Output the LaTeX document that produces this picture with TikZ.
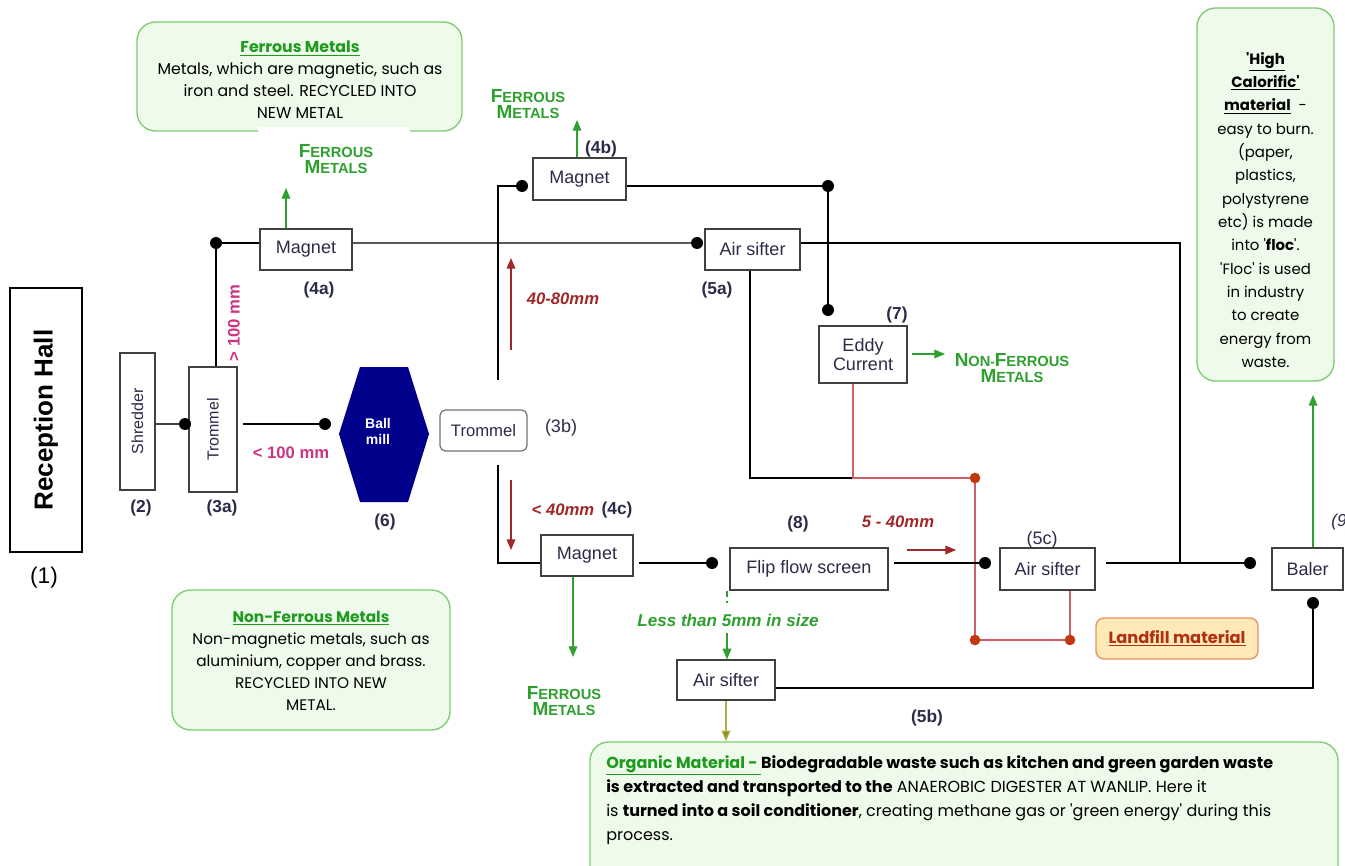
\documentclass[tikz,border=0pt]{standalone}
\usepackage{fontspec}
\setmainfont{Liberation Sans}
\newfontfamily\comic{Poppins}
\usetikzlibrary{arrows.meta,calc}
\definecolor{boxline}{HTML}{404040}
\definecolor{txt}{HTML}{2B2B4A}
\definecolor{notefill}{HTML}{EEFAEA}
\definecolor{noteline}{HTML}{7FCB72}
\definecolor{titlegreen}{HTML}{1E9A1E}
\definecolor{lblgreen}{HTML}{2EA02E}
\definecolor{magen}{HTML}{CC3380}
\definecolor{dred}{HTML}{A02828}
\definecolor{lred}{HTML}{D06060}
\definecolor{dotred}{HTML}{C03810}
\definecolor{millblue}{HTML}{00008B}
\definecolor{oliveline}{HTML}{B0B040}
\definecolor{landfill}{HTML}{FFE9B8}
\definecolor{landline}{HTML}{E89060}
\definecolor{landtxt}{HTML}{B03010}
\newcommand\scap[2]{{\fontsize{14.2}{16}\selectfont #1}{\fontsize{11}{16}\selectfont #2}}
\tikzset{
  proc/.style={draw=boxline, line width=0.9pt, fill=white, text=txt, inner sep=0pt, align=center,
    font=\fontsize{13.5}{15}\selectfont},
  note/.style={draw=noteline, line width=1pt, fill=notefill, rounded corners=14pt, inner sep=0pt},
  notetext/.style={align=center, inner sep=0pt, text=black},
  tag/.style={font=\bfseries\fontsize{13}{15}\selectfont, text=txt},
  glabel/.style={font=\bfseries, text=lblgreen, align=center, inner sep=0pt},
  flow/.style={line width=1.6pt, draw=black},
  grayline/.style={line width=1pt, draw=black!65},
  redline/.style={line width=0.9pt, draw=lred},
  gar/.style={line width=0.9pt, draw=lblgreen, -{Triangle[length=8pt,width=6.5pt,fill=lblgreen]}},
  rar/.style={line width=0.9pt, draw=dred, -{Triangle[length=8pt,width=6.5pt,fill=dred]}},
  oar/.style={line width=0.9pt, draw=oliveline, -{Triangle[length=8pt,width=6.5pt,fill=oliveline!80!black]}},
  redlbl/.style={font=\bfseries\itshape\fontsize{12.5}{14}\selectfont, text=dred},
  maglbl/.style={font=\bfseries\fontsize{12.5}{14}\selectfont, text=magen},
}
\begin{document}
\begin{tikzpicture}[x=0.75pt,y=-0.75pt]
\fill[white] (0,0) rectangle (1345,866);
\useasboundingbox (0,0) rectangle (1345,866);

% ---------- notes ----------
\node[note, minimum width=243.75pt, minimum height=81.75pt] (nFerr) at (299.5,76.5) {};
\fill[white] (258,127) rectangle (410,134);
\node[notetext, font=\comic\fontsize{11.8}{16.5}\selectfont] (tFerr) at (300,80)
  {{\bfseries\color{titlegreen}\underline{Ferrous Metals}}\\
   Metals, which are magnetic, such as\\ iron and steel. RECYCLED INTO\\ NEW METAL};

\node[note, minimum width=208.5pt, minimum height=105pt] (nNon) at (311,660) {};
\node[notetext, font=\comic\fontsize{11.5}{16.5}\selectfont] (tNon) at (311,661)
  {{\bfseries\color{titlegreen}\underline{Non-Ferrous Metals}}\\
   Non-magnetic metals, such as\\ aluminium, copper and brass.\\ RECYCLED INTO NEW\\ METAL.};

\node[note, minimum width=102.75pt, minimum height=279.75pt] (nHigh) at (1265.5,194.5) {};
\node[notetext, font=\comic\fontsize{11.2}{17.5}\selectfont] (tHigh) at (1265.5,210)
  {{\bfseries'\underline{High}}\\ {\bfseries\underline{Calorific'}}\\ {\bfseries\underline{material}} \ -\\
   easy to burn.\\ (paper,\\ plastics,\\ polystyrene\\ etc) is made\\ into '\textbf{floc}'.\\
   'Floc' is used\\ in industry\\ to create\\ energy from\\ waste.};

\node[note, minimum width=561pt, minimum height=106.5pt] (nOrg) at (964,813) {};
\node[notetext, align=left, anchor=north west, font=\comic\fontsize{12}{18}\selectfont] (tOrg) at (606,755)
  {{\bfseries\color{titlegreen}\underline{Organic Material - }}\textbf{Biodegradable waste such as kitchen and green garden waste}\\
   \textbf{is extracted and transported to the} ANAEROBIC DIGESTER AT WANLIP. Here it\\
   is \textbf{turned into a soil conditioner}, creating methane gas or 'green energy' during this\\
   process.};

% ---------- process boxes ----------
\node[draw=black, line width=1.2pt, minimum width=54pt, minimum height=198pt, inner sep=0pt] (hall) at (46,420) {};
\node[rotate=90, font=\bfseries\fontsize{19.5}{21}\selectfont] (hallt) at (hall.center) {Reception Hall};
\node[proc, rotate=90, minimum width=102.75pt, minimum height=26.25pt, font=\fontsize{12}{14}\selectfont] (shred) at (137.5,421.5) {Shredder};
\node[proc, rotate=90, minimum width=93.75pt, minimum height=36pt, font=\fontsize{12}{14}\selectfont] (trom1) at (213,429.5) {Trommel};
\node[proc, minimum width=69pt, minimum height=30.75pt] (mag4a) at (306,249.5) {Magnet};
\node[proc, minimum width=71.25pt, minimum height=30.75pt] (air5a) at (752.5,249.5) {Air sifter};
\node[proc, minimum width=69.75pt, minimum height=31.5pt] (mag4b) at (579.5,179) {Magnet};
\node[proc, minimum width=66pt, minimum height=42.75pt] (eddy) at (863,354.5) {Eddy\\[-1pt]Current};
\node[proc, draw=black!55, rounded corners=4pt, minimum width=65.25pt, minimum height=30.75pt, font=\fontsize{12.5}{14}\selectfont] (trom2) at (483.5,430.5) {Trommel};
\node[proc, minimum width=69pt, minimum height=30.75pt] (mag4c) at (587,555.5) {Magnet};
\node[proc, minimum width=118.5pt, minimum height=31.5pt] (flip) at (809,569) {Flip flow screen};
\node[proc, minimum width=71.25pt, minimum height=31.5pt] (air5c) at (1047.5,569) {Air sifter};
\node[proc, minimum width=53.25pt, minimum height=31.5pt] (baler) at (1307.5,569) {Baler};
\node[proc, minimum width=73.5pt, minimum height=30pt] (air5b) at (726,680) {Air sifter};
\node[draw=landline, line width=1pt, fill=landfill, rounded corners=6pt, minimum width=121.5pt, minimum height=30.75pt,
      text=landtxt, font=\comic\bfseries\fontsize{12.2}{14}\selectfont] (land) at (1177,638.5) {\underline{Landfill material}};

% ball mill
\fill[millblue] (360,367) -- (408,367) -- (429,434) -- (408,502) -- (360,502) -- (339,434) -- cycle;
\node[text=white, font=\bfseries\fontsize{10.5}{12}\selectfont, align=center] (ball) at (378,431) {Ball\\mill};

% ---------- coordinates ----------
\coordinate (d1) at (185,424);
\coordinate (d2) at (325,424);
\coordinate (d3) at (216,243);
\coordinate (d4) at (697,243);
\coordinate (j1) at (1180,243);
\coordinate (j2) at (1180,563);
\coordinate (a5b) at (750,478);
\coordinate (j3) at (853,478);
\coordinate (d8) at (975,478);
\coordinate (d9) at (975,640);
\coordinate (d10) at (1070,640);
\coordinate (t2u) at (498,380);
\coordinate (d5) at (522,186);
\coordinate (d6) at (828,186);
\coordinate (d7) at (828,310);
\coordinate (t2d) at (498,465);
\coordinate (d11) at (712,563);
\coordinate (d12) at (985,563);
\coordinate (d13) at (1250,563);
\coordinate (d14) at (1313,603);
\coordinate (e5) at (1313,688);
\coordinate (ga) at (1313,395);
\coordinate (fa) at (286,188);
\coordinate (fb) at (577,120);
\coordinate (fc) at (573,657);
\coordinate (ge) at (945,354);
\coordinate (gf) at (727,603);
\coordinate (gg) at (727,633);
\coordinate (r1) at (511,350);
\coordinate (r2) at (511,258);
\coordinate (r3) at (511,480);
\coordinate (r4) at (511,550);
\coordinate (r5) at (907,550);
\coordinate (r6) at (956,550);

% ---------- connectors ----------
\draw[line width=1pt, draw=black!75] (d1 -| shred.south) -- (d1);
\draw[flow] (d2 -| trom1.south) ++(5,0) -- (d2);
\draw[flow] (trom1.east -| d3) -- (d3) -- (d3 -| mag4a.west);
\draw[grayline] (d3 -| mag4a.east) -- (d4);
\draw[flow] (d4 -| air5a.east) -- (j1) -- (j2);
\draw[flow] (a5b |- air5a.south) -- (a5b) -- (j3);
\draw[redline] (j3 |- eddy.south) -- (j3) -- (d8);
\draw[redline] (d8) -- (d9) -- (d10) -- (d10 |- air5c.south);
\draw[flow] (t2u) -- (t2u |- d5) -- (d5);
\draw[flow] (d5 -| mag4b.east) -- (d6) -- (d7);
\draw[flow] (t2d) -- (t2d |- d11) -- (d11 -| mag4c.west);
\draw[flow] (d11 -| mag4c.east) ++(5,0) -- (d11);
\draw[flow] (d12 -| flip.east) ++(5,0) -- (d12);
\draw[flow] (d13 -| air5c.east) ++(10,0) -- (d13);
\draw[flow] (d14) -- (e5) -- (e5 -| air5b.east);
\draw[gar] (ga |- baler.north) -- (ga);
\draw[gar] (fa |- mag4a.north) -- (fa);
\draw[gar] (fb |- mag4b.north) -- (fb);
\draw[gar] (fc |- mag4c.south) -- (fc);
\draw[gar] (ge -| eddy.east) ++(4,0) -- (ge);
\draw[line width=0.9pt, draw=lblgreen, dash pattern=on 5pt off 3pt] (gf |- flip.south) -- (gf);
\draw[gar] (gg) -- (gg |- air5b.north);
\draw[oar] (air5b.south) -- (air5b.south |- nOrg.north);
\draw[rar] (r1) -- (r2);
\draw[rar] (r3) -- (r4);
\draw[rar] (r5) -- (r6);

\foreach \d in {d1,d2,d3,d4,d5,d6,d7,d11,d12,d13,d14} \fill[black] (\d) circle (4.5pt);
\foreach \d in {d8,d9,d10} \fill[dotred] (\d) circle (4pt);

% ---------- labels ----------
\node[font=\fontsize{17}{19}\selectfont] (l1) at (44,578) {(1)};
\node[tag] (l2) at (141,508) {(2)};
\node[tag] (l3a) at (222,508) {(3a)};
\node[tag] (l4a) at (319,290) {(4a)};
\node[tag] (l4b) at (601,149) {(4b)};
\node[tag] (l5a) at (717,290) {(5a)};
\node[tag] (l6) at (385,522) {(6)};
\node[tag, font=\fontsize{13.5}{15}\selectfont] (l3b) at (561,428) {(3b)};
\node[tag] (l7) at (897,315) {(7)};
\node[tag] (l4c) at (617,510) {(4c)};
\node[tag] (l8) at (798,524) {(8)};
\node[tag, font=\fontsize{13.5}{15}\selectfont] (l5c) at (1042,540) {(5c)};
\node[tag] (l5b) at (927,718) {(5b)};
\node[tag, font=\itshape\fontsize{13}{15}\selectfont, anchor=west, inner sep=0pt] (l9) at (1331,522) {(9)};

\node[maglbl, rotate=90] (gt100) at (234,323) {> 100 mm};
\node[maglbl] (lt100) at (291,453) {< 100 mm};
\node[redlbl] (m4080) at (563,299) {40-80mm};
\node[redlbl] (m40) at (563,510) {< 40mm};
\node[redlbl] (m540) at (898,522) {5 - 40mm};
\node[font=\bfseries\itshape\fontsize{12.8}{14}\selectfont, text=lblgreen] (less5) at (728,620) {Less than 5mm in size};

\node[glabel] (fm1) at (336,159) {\scap{F}{ERROUS}\\\scap{M}{ETALS}};
\node[glabel] (fm2) at (528,104) {\scap{F}{ERROUS}\\\scap{M}{ETALS}};
\node[glabel] (fm3) at (564,701) {\scap{F}{ERROUS}\\\scap{M}{ETALS}};
\node[glabel] (nfm) at (1012,368) {\scap{N}{ON}-\scap{F}{ERROUS}\\\scap{M}{ETALS}};
\end{tikzpicture}
\end{document}
